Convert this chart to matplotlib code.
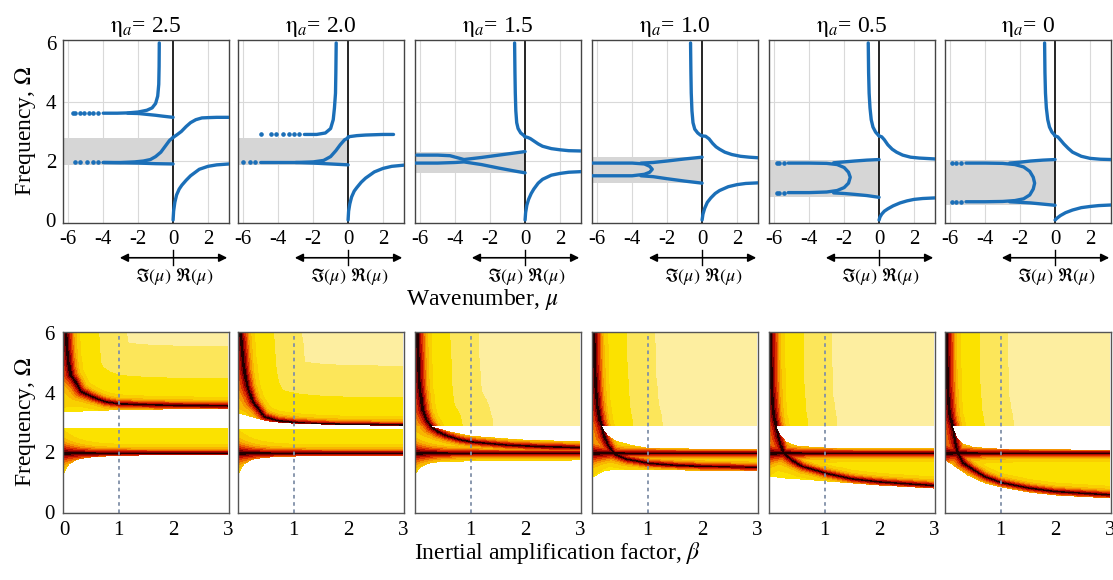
import numpy as np
import matplotlib
matplotlib.use("Agg")
import matplotlib.pyplot as plt
from matplotlib.colors import ListedColormap, BoundaryNorm
import matplotlib.transforms as mtransforms

plt.rcParams['font.family'] = ['Liberation Serif', 'DejaVu Serif']
plt.rcParams['mathtext.fontset'] = 'stix'

# ---------------- data ----------------
ETA_LABELS = ['2.5', '2.0', '1.5', '1.0', '0.5', '0']

# top row: shaded attenuation band (Omega low, high) per panel
BANDS = [(1.87, 2.78), (1.87, 2.78), (1.60, 2.30), (1.25, 2.12), (0.79, 2.03), (0.50, 2.05)]

# top row dispersion curves (mu, Omega); negative mu = imaginary part
CURVES_25 = [
    ([0, 0.03, 0.1, 0.2, 0.35, 0.5, 0.75, 1.0, 1.5, 2.0, 2.5, 3.2],
     [0, 0.3, 0.6, 0.85, 1.05, 1.18, 1.35, 1.5, 1.72, 1.82, 1.87, 1.9]),
    ([0, 0.2, 0.47, 0.75, 1.0, 1.3, 1.65, 2.0, 2.5, 3.2],
     [2.8, 2.88, 3.0, 3.17, 3.3, 3.4, 3.46, 3.47, 3.48, 3.48]),
    ([-0.79, -0.8, -0.82, -0.88, -1.0, -1.2, -1.5, -2.0, -2.6, -3.2, -4.0],
     [6.0, 5.2, 4.6, 4.2, 3.95, 3.8, 3.72, 3.66, 3.63, 3.62, 3.62]),
    ([0, -0.3, -0.6, -1.0, -1.5, -2.0, -2.6],
     [3.48, 3.5, 3.52, 3.55, 3.58, 3.61, 3.62]),
    ([0, -0.2, -0.45, -0.7, -1.0, -1.3, -1.7, -2.2, -3.0, -4.0],
     [2.8, 2.7, 2.5, 2.3, 2.15, 2.05, 2.0, 1.97, 1.95, 1.95]),
    ([0, -1, -2, -3, -4],
     [1.9, 1.91, 1.93, 1.94, 1.95]),
]
TAILS_25 = [([-4.3, -4.6, -4.8, -5.1, -5.3, -5.6, -5.7], 3.62),
            ([-4.3, -4.6, -4.9, -5.3, -5.6], 1.95)]

CURVES_20 = [
    ([0, 0.03, 0.1, 0.2, 0.35, 0.5, 0.75, 1.0, 1.5, 2.0, 2.5, 3.2],
     [0, 0.3, 0.55, 0.78, 0.98, 1.1, 1.28, 1.42, 1.63, 1.75, 1.82, 1.86]),
    ([0, 0.5, 1.0, 1.5, 2.0, 2.6],
     [2.82, 2.86, 2.88, 2.89, 2.9, 2.9]),
    ([-0.68, -0.7, -0.72, -0.78, -0.85, -1.0, -1.3, -1.8, -2.5],
     [6.0, 5.0, 4.3, 3.8, 3.4, 3.1, 2.95, 2.9, 2.9]),
    ([0, -0.2, -0.45, -0.7, -1.0, -1.4, -2.0, -3.0, -4.0, -5.0],
     [2.78, 2.72, 2.55, 2.35, 2.15, 2.02, 1.97, 1.95, 1.95, 1.95]),
    ([0, -1, -2, -3],
     [1.87, 1.9, 1.93, 1.95]),
]
TAILS_20 = [([-2.8, -3.1, -3.4, -3.7, -4.1, -4.4, -5.0], 2.9),
            ([-5.3, -5.6, -6.0], 1.95)]

CURVES_15 = [
    ([0, 0.03, 0.1, 0.2, 0.35, 0.5, 0.75, 1.0, 1.5, 2.0, 2.5, 3.2],
     [0, 0.25, 0.5, 0.7, 0.9, 1.05, 1.25, 1.38, 1.52, 1.58, 1.62, 1.64]),
    ([0, 0.15, 0.3, 0.5, 0.75, 1.0, 1.5, 2.0, 2.5, 3.2],
     [2.82, 2.8, 2.76, 2.68, 2.58, 2.5, 2.42, 2.38, 2.35, 2.34]),
    ([-0.6, -0.58, -0.56, -0.53, -0.48, -0.4, -0.25, -0.1, 0],
     [6.0, 5.0, 4.3, 3.7, 3.3, 3.1, 2.95, 2.88, 2.82]),
    ([-6.2, -5.0, -4.3, -3.8, -3.5, -2.5, -1.5, -0.5, 0],
     [2.2, 2.2, 2.18, 2.1, 2.05, 2.12, 2.2, 2.28, 2.32]),
    ([-6.3, -5.0, -4.0, -3.5, -2.5, -1.5, -0.5, 0],
     [1.93, 1.93, 1.95, 1.97, 1.88, 1.76, 1.65, 1.6]),
]
TAILS_15 = []

CURVES_10 = [
    ([0, 0.05, 0.15, 0.3, 0.5, 0.75, 1.0, 1.5, 2.0, 2.5, 3.2],
     [0, 0.2, 0.4, 0.6, 0.75, 0.9, 1.0, 1.13, 1.2, 1.24, 1.26]),
    ([0, 0.2, 0.4, 0.6, 0.8, 1.0, 1.3, 1.7, 2.2, 2.7, 3.2],
     [2.85, 2.84, 2.75, 2.6, 2.48, 2.4, 2.3, 2.22, 2.16, 2.13, 2.11]),
    ([-0.66, -0.64, -0.62, -0.58, -0.52, -0.42, -0.25, -0.1, 0],
     [6.0, 5.0, 4.3, 3.7, 3.3, 3.08, 2.95, 2.88, 2.85]),
    ([-6.3, -4.0, -3.3, -3.0, -2.85, -3.0, -3.3, -4.0, -6.3],
     [1.93, 1.93, 1.9, 1.82, 1.72, 1.62, 1.55, 1.5, 1.5]),
    ([0, -1.0, -2.0, -2.8, -3.5],
     [2.13, 2.07, 2.0, 1.95, 1.93]),
    ([0, -1.0, -2.0, -2.8, -3.5],
     [1.25, 1.32, 1.4, 1.47, 1.5]),
]
TAILS_10 = []

CURVES_05 = [
    ([0, 0.05, 0.15, 0.3, 0.5, 0.8, 1.2, 1.6, 2.0, 2.5, 3.2],
     [0, 0.1, 0.2, 0.3, 0.38, 0.48, 0.58, 0.65, 0.7, 0.73, 0.75]),
    ([0, 0.15, 0.3, 0.5, 0.75, 1.0, 1.35, 1.8, 2.3, 3.2],
     [2.85, 2.82, 2.72, 2.55, 2.4, 2.3, 2.2, 2.13, 2.1, 2.07]),
    ([-0.62, -0.6, -0.57, -0.52, -0.45, -0.35, -0.2, -0.08, 0],
     [6.0, 5.0, 4.3, 3.8, 3.4, 3.15, 2.98, 2.9, 2.85]),
    ([-5.2, -4.0, -3.0, -2.4, -2.0, -1.75, -1.65, -1.75, -2.0, -2.4, -3.0, -4.0, -5.2],
     [1.93, 1.93, 1.92, 1.88, 1.78, 1.62, 1.45, 1.25, 1.1, 1.0, 0.95, 0.93, 0.93]),
    ([0, -0.7, -1.4, -2.0, -2.6],
     [2.05, 2.03, 2.0, 1.97, 1.94]),
    ([0, -0.7, -1.4, -2.0, -2.6],
     [0.77, 0.83, 0.87, 0.9, 0.92]),
]
TAILS_05 = [([-5.45, -5.7, -5.85], 1.93), ([-5.45, -5.7, -5.85], 0.93)]

CURVES_00 = [
    ([0, 0.1, 0.3, 0.6, 1.0, 1.5, 2.0, 2.5, 3.2],
     [0, 0.06, 0.15, 0.25, 0.34, 0.42, 0.46, 0.49, 0.51]),
    ([0, 0.15, 0.3, 0.5, 0.75, 1.0, 1.5, 2.0, 2.6, 3.2],
     [2.85, 2.82, 2.72, 2.58, 2.43, 2.3, 2.16, 2.09, 2.06, 2.05]),
    ([-0.6, -0.58, -0.55, -0.5, -0.42, -0.32, -0.18, -0.06, 0],
     [6.0, 5.0, 4.3, 3.8, 3.4, 3.15, 2.98, 2.9, 2.85]),
    ([-5.1, -4.0, -3.0, -2.3, -1.8, -1.45, -1.25, -1.17, -1.25, -1.45, -1.8, -2.3, -3.0, -4.0, -5.1],
     [1.93, 1.93, 1.92, 1.88, 1.8, 1.65, 1.45, 1.25, 1.05, 0.85, 0.72, 0.66, 0.63, 0.62, 0.62]),
    ([0, -0.7, -1.4, -2.0, -2.6],
     [2.05, 2.03, 2.0, 1.96, 1.93]),
    ([0, -0.7, -1.4, -2.0, -2.6],
     [0.5, 0.54, 0.58, 0.6, 0.62]),
]
TAILS_00 = [([-5.4, -5.65, -5.9], 1.93), ([-5.4, -5.65, -5.9], 0.62)]

TOP_CURVES = [CURVES_25, CURVES_20, CURVES_15, CURVES_10, CURVES_05, CURVES_00]
TOP_TAILS = [TAILS_25, TAILS_20, TAILS_15, TAILS_10, TAILS_05, TAILS_00]

# bottom row: attenuation maps vs beta
LOCAL_RES = 1.97   # horizontal resonance ridge (Omega)

RIDGE_B = [
    [0.03, 0.05, 0.08, 0.12, 0.22, 0.3, 0.5, 0.75, 1.0, 1.5, 2.0, 3.0],
    [0.02, 0.04, 0.06, 0.09, 0.15, 0.25, 0.46, 0.7, 1.08, 1.5, 2.0, 3.0],
    [0.02, 0.03, 0.06, 0.12, 0.2, 0.28, 0.4, 0.56, 0.8, 1.05, 1.67, 2.3, 3.0],
    [0.01, 0.02, 0.04, 0.08, 0.12, 0.16, 0.2, 0.27, 0.39, 0.6, 1.04, 1.5, 2.0, 3.0],
    [0.005, 0.01, 0.02, 0.04, 0.07, 0.11, 0.15, 0.2, 0.25, 0.4, 0.59, 0.99, 1.5, 2.0, 3.0],
    [0.005, 0.01, 0.02, 0.04, 0.07, 0.12, 0.16, 0.21, 0.31, 0.49, 0.7, 1.0, 1.5, 2.0, 3.0],
]
RIDGE_W = [
    [6.0, 5.5, 5.0, 4.6, 4.32, 4.05, 3.87, 3.7, 3.63, 3.6, 3.58, 3.56],
    [6.0, 5.7, 5.33, 4.77, 4.2, 3.7, 3.2, 3.07, 3.0, 2.96, 2.93, 2.91],
    [6.0, 5.4, 4.2, 3.42, 3.05, 2.84, 2.68, 2.55, 2.42, 2.34, 2.24, 2.19, 2.16],
    [6.0, 5.2, 4.3, 3.5, 3.1, 2.86, 2.53, 2.25, 1.94, 1.78, 1.63, 1.57, 1.53, 1.49],
    [6.0, 5.2, 4.4, 3.7, 3.2, 2.86, 2.5, 2.2, 1.97, 1.74, 1.52, 1.3, 1.1, 1.0, 0.88],
    [6.0, 5.2, 4.4, 3.7, 3.2, 2.86, 2.4, 1.97, 1.65, 1.41, 1.18, 0.98, 0.8, 0.68, 0.57],
]
# region boundaries (beta samples, Omega values)
UPPER_EDGE_B = [[0, 1, 3], [0, 0.1, 0.3, 0.5, 1.0, 2.0, 3.0], [0, 3], [0, 3], [0, 3], [0, 3]]
UPPER_EDGE_W = [[3.35, 3.42, 3.47], [3.3, 3.25, 3.15, 3.05, 2.95, 2.9, 2.88],
                [2.86, 2.86], [2.86, 2.86], [2.86, 2.86], [2.86, 2.86]]
LOWER_TOP_B = [[0, 3], [0, 3],
               [0, 0.28, 0.4, 0.56, 1.0, 2.0, 3.0],
               [0, 0.16, 0.25, 0.4, 0.7, 1.0, 2.0, 3.0],
               [0, 0.11, 0.2, 0.3, 0.5, 1.0, 2.0, 3.0],
               [0, 0.12, 0.2, 0.3, 0.5, 1.0, 2.0, 3.0]]
LOWER_TOP_W = [[2.8, 2.8], [2.78, 2.78],
               [2.86, 2.86, 2.8, 2.72, 2.55, 2.42, 2.37],
               [2.86, 2.86, 2.6, 2.4, 2.25, 2.15, 2.12, 2.1],
               [2.86, 2.86, 2.55, 2.35, 2.22, 2.16, 2.14, 2.13],
               [2.86, 2.86, 2.5, 2.3, 2.18, 2.12, 2.1, 2.08]]
LOWER_BOT_B = [[0, 0.05, 0.1, 0.2, 0.3, 0.5, 0.75, 1.0, 1.5, 2.0, 3.0],
               [0, 0.05, 0.1, 0.2, 0.3, 0.5, 0.75, 1.0, 1.5, 2.0, 3.0],
               [0, 0.05, 0.1, 0.2, 0.3, 0.5, 1.0, 2.0, 3.0],
               [0, 0.1, 0.2, 0.4, 1.0, 2.0, 3.0],
               [0, 0.2, 0.4, 1.0, 2.0, 3.0],
               [0, 0.1, 0.2, 0.4, 0.7, 1.0, 1.5, 2.0, 3.0]]
LOWER_BOT_W = [[1.3, 1.45, 1.6, 1.72, 1.78, 1.83, 1.86, 1.88, 1.9, 1.91, 1.92],
               [1.3, 1.45, 1.6, 1.72, 1.78, 1.82, 1.85, 1.86, 1.88, 1.88, 1.89],
               [1.3, 1.4, 1.5, 1.6, 1.65, 1.68, 1.7, 1.72, 1.73],
               [1.15, 1.25, 1.35, 1.4, 1.4, 1.37, 1.35],
               [1.18, 1.12, 1.1, 1.02, 0.88, 0.78],
               [1.7, 1.6, 1.45, 1.2, 0.95, 0.82, 0.65, 0.55, 0.45]]

HEAT_COLORS = ['#200000', '#7a0000', '#b80a00', '#dc3000', '#ec6200', '#f59400',
               '#f8b600', '#f9d000', '#fbe200', '#fce65a', '#fdeea0']
HEAT_BOUNDS = [0, 0.6, 1.2, 1.9, 2.7, 3.6, 4.6, 6.0, 9.0, 28, 60, 1e9]

# ---------------- figure ----------------
W, H = 1113, 580
fig = plt.figure(figsize=(W / 100, H / 100), dpi=100)
LEFTS = [63, 238, 415, 592, 769, 945]
PW = 166
BLUE = '#1b6fb8'
FS_TICK = 15

def px_axes(left, top, width, height):
    return fig.add_axes([left / W, 1 - (top + height) / H, width / W, height / H])

SX, SY = 55.0, 30.0

def densify(b, w, n=700):
    b = np.asarray(b, float); w = np.asarray(w, float)
    seg = np.hypot(np.diff(b) * SX, np.diff(w) * SY)
    s = np.concatenate([[0], np.cumsum(seg)])
    t = np.linspace(0, s[-1], n)
    return np.interp(t, s, b), np.interp(t, s, w)

def distance(BB, WW, pts):
    d = np.full(BB.shape, 1e9)
    for x, y in zip(*pts):
        d = np.minimum(d, np.hypot((BB - x) * SX, (WW - y) * SY))
    return d

cmap = ListedColormap(HEAT_COLORS)
norm = BoundaryNorm(HEAT_BOUNDS, cmap.N)

for i in range(6):
    # ---------- top panel ----------
    ax = px_axes(LEFTS[i], 40, PW, 183)
    ax.set_xlim(-6.3, 3.2)
    ax.set_ylim(-0.1, 6.1)
    for gx in [-6, -4, -2, 2]:
        ax.axvline(gx, color='#d9d9d9', lw=0.8, zorder=0)
    for gy in [2, 4]:
        ax.axhline(gy, color='#d9d9d9', lw=0.8, zorder=0)
    lo, hi = BANDS[i]
    ax.fill_between([-6.3, 0], [lo, lo], [hi, hi], color='#d6d6d6', lw=0, zorder=1)
    ax.plot([0, 0], [-0.1, 6.1], color='black', lw=1.2, zorder=2)
    for mu, om in TOP_CURVES[i]:
        ax.plot(mu, om, color=BLUE, lw=2.4, solid_capstyle='round', zorder=3)
    for mu, om in TOP_TAILS[i]:
        ax.plot(mu, [om] * len(mu), ls='none', marker='o', ms=2.3, color=BLUE, zorder=3)
    ax.set_xticks([-6, -4, -2, 0, 2])
    ax.set_xticklabels(['-6', '-4', '-2', '0', '2'])
    ax.set_yticks([0, 2, 4, 6])
    if i > 0:
        ax.set_yticklabels([])
    ax.tick_params(length=0, labelsize=FS_TICK, pad=5)
    for sp in ax.spines.values():
        sp.set_color('#444444'); sp.set_linewidth(1.0)
    ax.set_title(r'$\mathrm{\eta}_a$= ' + ETA_LABELS[i], fontsize=17, pad=6)
    tr = mtransforms.blended_transform_factory(ax.transData, ax.transAxes)
    ax.annotate('', xy=(-3.05, -0.19), xytext=(3.1, -0.19), xycoords=tr, textcoords=tr,
                arrowprops=dict(arrowstyle='<|-|>', color='black', lw=1.2,
                                mutation_scale=12, shrinkA=0, shrinkB=0), annotation_clip=False)
    ax.plot([0, 0], [-0.15, -0.23], transform=tr, color='black', lw=1.0, clip_on=False)
    ax.text(-0.1, -0.295, r'$\Im(\mu)$', transform=tr, ha='right', va='center', fontsize=13)
    ax.text(0.1, -0.295, r'$\Re(\mu)$', transform=tr, ha='left', va='center', fontsize=13)

    # ---------- bottom panel ----------
    bx = px_axes(LEFTS[i], 332, PW, 181)
    bb = np.linspace(0, 3, 300)
    ww = np.linspace(0, 6, 362)
    BB, WW = np.meshgrid(bb, ww)
    rb, rw = densify(RIDGE_B[i], RIDGE_W[i])
    hb, hw = densify([0, 3], [LOCAL_RES, LOCAL_RES], 300)
    u_edge = np.interp(BB, UPPER_EDGE_B[i], UPPER_EDGE_W[i])
    l_top = np.interp(BB, LOWER_TOP_B[i], LOWER_TOP_W[i])
    l_bot = np.interp(BB, LOWER_BOT_B[i], LOWER_BOT_W[i])
    umin = min(UPPER_EDGE_W[i]) - 0.05
    lmax = max(LOWER_TOP_W[i]) + 0.05
    sel_u = rw >= umin
    sel_l = rw <= lmax
    d_up = distance(BB, WW, (rb[sel_u], rw[sel_u]))
    d_lo = distance(BB, WW, (np.concatenate([rb[sel_l], hb]), np.concatenate([rw[sel_l], hw])))
    widen = 1 + 1.6 * np.exp(-BB / 0.3)
    field = np.full(BB.shape, np.nan)
    up_mask = WW >= u_edge
    lo_mask = (WW >= l_bot) & (WW <= l_top)
    field[up_mask] = (d_up / widen)[up_mask]
    field[lo_mask] = np.minimum(np.where(np.isnan(field), 1e9, field), d_lo / widen)[lo_mask]
    bx.imshow(np.ma.masked_invalid(field), origin='lower', extent=[0, 3, 0, 6],
              aspect='auto', cmap=cmap, norm=norm, interpolation='nearest')
    bx.set_xlim(-0.02, 3.02)
    bx.set_ylim(-0.05, 6.05)
    bx.axvline(1.0, color='#8090a8', lw=1.3, ls=(0, (2, 2)))
    bx.set_xticks([0, 1, 2, 3])
    bx.set_xticklabels(['0' if i == 0 else '', '1', '2', '3'])
    bx.set_yticks([0, 2, 4, 6])
    if i > 0:
        bx.set_yticklabels([])
    bx.tick_params(length=0, labelsize=FS_TICK, pad=6)
    for sp in bx.spines.values():
        sp.set_color('#555555'); sp.set_linewidth(1.0)

fig.text(25 / W, 1 - 131 / H, r'Frequency, $\Omega$', rotation=90, ha='center', va='center', fontsize=17)
fig.text(25 / W, 1 - 422 / H, r'Frequency, $\Omega$', rotation=90, ha='center', va='center', fontsize=17)
fig.text(482 / W, 1 - 300 / H, r'Wavenumber, $\mu$', ha='center', va='center', fontsize=17)
fig.text(558 / W, 1 - 553 / H, r'Inertial amplification factor, $\beta$', ha='center', va='center', fontsize=17)

fig.savefig('out.png', dpi=100)
